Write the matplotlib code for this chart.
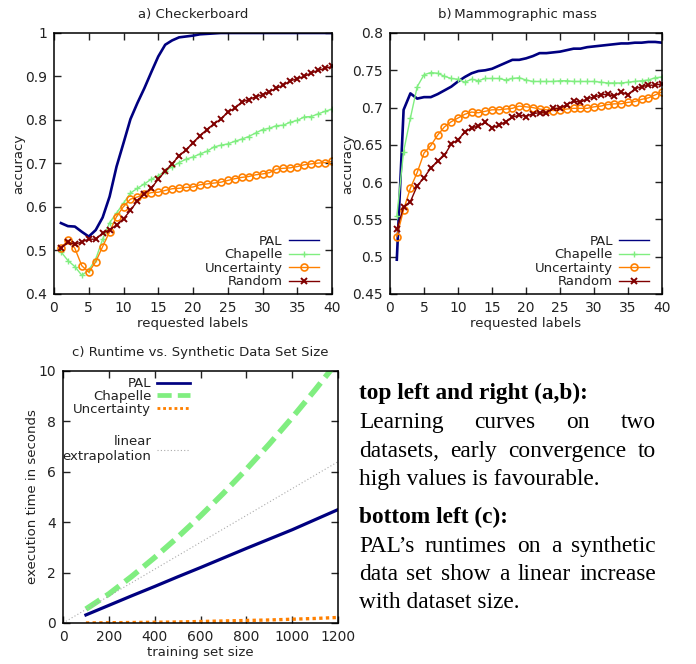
import numpy as np
import matplotlib
matplotlib.use('Agg')
import matplotlib.pyplot as plt

# ---- data ----
labels_x = np.arange(1, 41)

a_pal = [0.563, 0.556, 0.555, 0.543, 0.532, 0.547, 0.576, 0.624, 0.693, 0.747,
         0.802, 0.839, 0.873, 0.910, 0.946, 0.973, 0.983, 0.990, 0.992, 0.994,
         0.997, 0.998, 0.999, 1.0, 1.0, 1.0, 1.0, 1.0, 1.0, 1.0,
         1.0, 1.0, 1.0, 1.0, 1.0, 1.0, 1.0, 1.0, 1.0, 1.0]
a_chapelle = [0.497, 0.477, 0.463, 0.443, 0.455, 0.480, 0.526, 0.564, 0.586, 0.609,
              0.632, 0.643, 0.653, 0.664, 0.672, 0.682, 0.693, 0.702, 0.710, 0.715,
              0.722, 0.728, 0.738, 0.742, 0.745, 0.751, 0.756, 0.762, 0.770, 0.778,
              0.781, 0.787, 0.788, 0.795, 0.799, 0.807, 0.808, 0.814, 0.820, 0.825]
a_uncert = [0.505, 0.524, 0.505, 0.465, 0.450, 0.474, 0.509, 0.543, 0.578, 0.601,
            0.618, 0.623, 0.629, 0.633, 0.634, 0.638, 0.642, 0.643, 0.645, 0.646,
            0.651, 0.653, 0.655, 0.657, 0.661, 0.665, 0.668, 0.670, 0.674, 0.676,
            0.679, 0.687, 0.689, 0.690, 0.693, 0.697, 0.699, 0.701, 0.702, 0.705]
a_random = [0.505, 0.519, 0.514, 0.520, 0.526, 0.526, 0.540, 0.547, 0.559, 0.573,
            0.592, 0.614, 0.630, 0.643, 0.664, 0.682, 0.699, 0.718, 0.731, 0.748,
            0.764, 0.778, 0.791, 0.802, 0.818, 0.827, 0.841, 0.847, 0.853, 0.858,
            0.865, 0.873, 0.880, 0.890, 0.895, 0.900, 0.908, 0.914, 0.919, 0.923]

b_pal = [0.496, 0.697, 0.719, 0.712, 0.714, 0.714, 0.718, 0.723, 0.728, 0.735,
         0.741, 0.746, 0.749, 0.750, 0.752, 0.756, 0.760, 0.764, 0.764, 0.766,
         0.769, 0.773, 0.773, 0.774, 0.775, 0.777, 0.779, 0.779, 0.781, 0.782,
         0.783, 0.784, 0.785, 0.786, 0.786, 0.787, 0.787, 0.788, 0.788, 0.787]
b_chapelle = [0.554, 0.641, 0.686, 0.728, 0.744, 0.747, 0.746, 0.742, 0.739, 0.738,
              0.734, 0.738, 0.736, 0.739, 0.739, 0.739, 0.737, 0.739, 0.740, 0.737,
              0.735, 0.735, 0.735, 0.735, 0.736, 0.736, 0.735, 0.735, 0.735, 0.735,
              0.734, 0.733, 0.733, 0.733, 0.734, 0.735, 0.736, 0.737, 0.740, 0.741]
b_uncert = [0.527, 0.563, 0.592, 0.613, 0.639, 0.649, 0.663, 0.674, 0.681, 0.686,
            0.691, 0.694, 0.693, 0.695, 0.697, 0.697, 0.698, 0.699, 0.702, 0.701,
            0.700, 0.698, 0.697, 0.696, 0.697, 0.698, 0.699, 0.699, 0.699, 0.701,
            0.702, 0.704, 0.705, 0.705, 0.707, 0.708, 0.711, 0.713, 0.717, 0.721]
b_random = [0.537, 0.566, 0.574, 0.595, 0.606, 0.619, 0.628, 0.636, 0.651, 0.657,
            0.667, 0.673, 0.675, 0.680, 0.673, 0.676, 0.681, 0.687, 0.690, 0.688,
            0.692, 0.693, 0.693, 0.699, 0.699, 0.704, 0.709, 0.707, 0.712, 0.714,
            0.717, 0.718, 0.715, 0.721, 0.717, 0.725, 0.728, 0.730, 0.730, 0.732]

set_size = [100, 200, 300, 400, 500, 600, 700, 800, 900, 1000, 1100, 1200]
c_pal = [0.32, 0.70, 1.08, 1.45, 1.83, 2.20, 2.58, 2.96, 3.33, 3.70, 4.10, 4.50]
c_chapelle = [0.55, 1.15, 1.85, 2.60, 3.40, 4.25, 5.15, 6.10, 7.10, 8.15, 9.25, 10.4]
c_uncert = [0.0, 0.01, 0.02, 0.03, 0.04, 0.06, 0.08, 0.10, 0.12, 0.15, 0.18, 0.22]
extrap_x = [0, 1200]
extrap_y = [0, 6.4]

note_lines = [
    ('top left and right (a,b):', 'bold', False),
    ('Learning curves on two', 'normal', True),
    ('datasets, early convergence to', 'normal', True),
    ('high values is favourable.', 'normal', False),
    ('bottom left (c):', 'bold', False),
    ('PAL\u2019s runtimes on a synthetic', 'normal', True),
    ('data set show a linear increase', 'normal', True),
    ('with dataset size.', 'normal', False),
]
note_baselines = [399, 428, 457, 485, 523, 552, 580, 608]

c_pal_col = '#000080'
c_chap_col = '#80ee80'
c_unc_col = '#ff8000'
c_rnd_col = '#800000'
tick_col = '#222222'

W, H = 696, 664
fig = plt.figure(figsize=(W / 100, H / 100), dpi=100)
plt.rcParams['font.family'] = 'DejaVu Sans'


def px_axes(l, t, r, b):
    return fig.add_axes([l / W, 1 - b / H, (r - l) / W, (b - t) / H])


def style(ax):
    ax.tick_params(direction='in', top=True, right=True, length=5, width=1,
                   labelsize=10, colors=tick_col)
    ax.tick_params(axis='x', pad=5)
    ax.tick_params(axis='y', pad=5)
    for s in ax.spines.values():
        s.set_linewidth(1.1)
        s.set_color('black')


def curves(ax, pal, chap, unc, rnd):
    ax.plot(labels_x, pal, color=c_pal_col, lw=1.9, label='PAL')
    ax.plot(labels_x, chap, color=c_chap_col, lw=1.0, marker='+', ms=5, mew=1.0,
            label='Chapelle')
    ax.plot(labels_x, unc, color=c_unc_col, lw=1.0, marker='o', ms=5, mew=1.2,
            mfc='none', label='Uncertainty')
    ax.plot(labels_x, rnd, color=c_rnd_col, lw=1.0, marker='x', ms=4, mew=1.4,
            label='Random')
    ax.set_xlim(0, 40)
    ax.set_xticks(range(0, 41, 5))
    ax.set_xlabel('requested labels', fontsize=9.5, color=tick_col)
    ax.set_ylabel('accuracy', fontsize=9.5, color=tick_col)
    leg = ax.legend(loc='lower right', frameon=False, markerfirst=False, fontsize=9.5,
                    labelspacing=0.04, handlelength=2.3, handletextpad=0.45,
                    borderpad=0, borderaxespad=0, bbox_to_anchor=(0.953, 0.022))
    for ln in leg.get_lines():
        ln.set_linewidth(1.0)
    for t in leg.get_texts():
        t.set_color(tick_col)
    style(ax)


# a) Checkerboard
ax_a = px_axes(54, 33, 332, 294)
curves(ax_a, a_pal, a_chapelle, a_uncert, a_random)
ax_a.set_ylim(0.4, 1.0)
ax_a.set_yticks([0.4, 0.5, 0.6, 0.7, 0.8, 0.9, 1.0])
ax_a.set_yticklabels(['0.4', '0.5', '0.6', '0.7', '0.8', '0.9', '1'])
ax_a.set_title('a) Checkerboard', fontsize=9.5, pad=11, color=tick_col)
ax_a.yaxis.set_label_coords(-0.105, 0.5)
ax_a.xaxis.set_label_coords(0.5, -0.088)

# b) Mammographic mass
ax_b = px_axes(390, 33, 662, 294)
curves(ax_b, b_pal, b_chapelle, b_uncert, b_random)
ax_b.set_ylim(0.45, 0.8)
ax_b.set_yticks([0.45, 0.5, 0.55, 0.6, 0.65, 0.7, 0.75, 0.8])
ax_b.set_yticklabels(['0.45', '0.5', '0.55', '0.6', '0.65', '0.7', '0.75', '0.8'])
ax_b.set_title('b)\u2009Mammographic mass', fontsize=9.5, pad=11, x=0.47, color=tick_col)
ax_b.yaxis.set_label_coords(-0.13, 0.5)
ax_b.xaxis.set_label_coords(0.5, -0.088)

# c) Runtime
ax_c = px_axes(63, 371, 338, 623)
h_pal, = ax_c.plot(set_size, c_pal, color=c_pal_col, lw=2.3, label='PAL')
h_chap, = ax_c.plot(set_size, c_chapelle, color=c_chap_col, lw=4, dashes=(3.0, 1.3),
                    label='Chapelle')
h_unc, = ax_c.plot(set_size, c_uncert, color=c_unc_col, lw=2.4, dashes=(1, 1),
                   label='Uncertainty')
h_lin, = ax_c.plot(extrap_x, extrap_y, color='#aaaaaa', lw=0.8, dashes=(1, 2),
                   label='linear\nextrapolation')
ax_c.set_xlim(0, 1200)
ax_c.set_ylim(0, 10)
ax_c.set_xticks(range(0, 1201, 200))
ax_c.set_yticks(range(0, 11, 2))
ax_c.set_xlabel('training set size', fontsize=9.5, color=tick_col)
ax_c.set_ylabel('execution time in seconds', fontsize=9.5, color=tick_col)
ax_c.set_title('c) Runtime vs. Synthetic Data Set Size', fontsize=9.5, pad=11, color=tick_col)
ax_c.yaxis.set_label_coords(-0.087, 0.5)
ax_c.xaxis.set_label_coords(0.5, -0.091)
style(ax_c)
leg1 = ax_c.legend(handles=[h_pal, h_chap, h_unc], loc='upper right', frameon=False,
                   markerfirst=False, fontsize=9.5, labelspacing=-0.02, handlelength=2.5,
                   handletextpad=0.45, borderpad=0, borderaxespad=0,
                   bbox_to_anchor=(0.462, 0.975))
ax_c.add_artist(leg1)
leg2 = ax_c.legend(handles=[h_lin], loc='upper right', frameon=False, markerfirst=False,
                   fontsize=9.5, handlelength=2.5, handletextpad=0.45, borderpad=0,
                   borderaxespad=0, bbox_to_anchor=(0.462, 0.745))
for lg in (leg1, leg2):
    for t in lg.get_texts():
        t.set_color(tick_col)
        t.set_multialignment('right')
for ln in leg1.get_lines():
    ln.set_linewidth(ln.get_linewidth() * 0.85)

# explanatory text block (justified)
renderer = fig.canvas.get_renderer()
left_px, right_px = 359, 656
for (line, weight, justify), base in zip(note_lines, note_baselines):
    y = 1 - base / H
    kw = dict(family='Liberation Serif', fontsize=16.8, weight=weight, va='baseline',
              color='black')
    if not justify:
        fig.text(left_px / W, y, line, ha='left', **kw)
        continue
    words = line.split(' ')
    txts = [fig.text(0, y, w, ha='left', **kw) for w in words]
    widths = [t.get_window_extent(renderer).width for t in txts]
    gap = (right_px - left_px - sum(widths)) / (len(words) - 1)
    x = left_px
    for t, w in zip(txts, widths):
        t.set_x(x / W)
        x += w + gap

fig.savefig('out.png', dpi=100)
